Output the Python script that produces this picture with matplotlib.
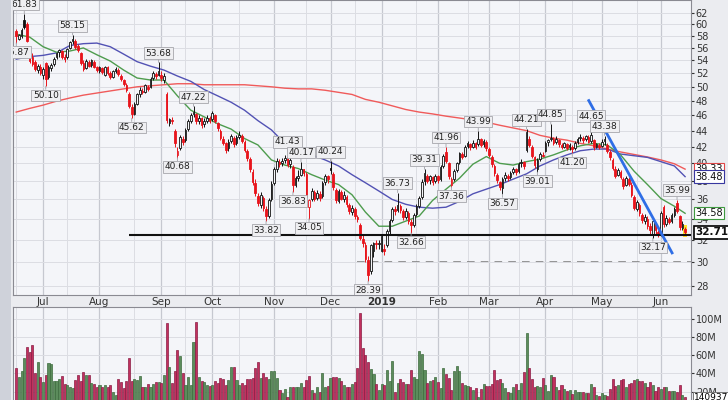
import numpy as np
import pandas as pd
import matplotlib
matplotlib.use("Agg")
import matplotlib.pyplot as plt
from matplotlib.ticker import FixedLocator, FixedFormatter, NullLocator


W, H = 728, 400

holidays = ["2018-07-04", "2018-09-03", "2018-11-22", "2018-12-05", "2018-12-25",
            "2019-01-01", "2019-01-21", "2019-02-18", "2019-04-19", "2019-05-27"]
first_day, last_day = "2018-06-18", "2019-06-14"

# daily candles
opens = [
    58.8, 57.5, 58.0, 60.8, 60.0, 55.5, 54.6, 53.8, 52.5, 53.0,
    51.8, 53.6, 51.4, 52.8, 53.4, 54.5, 55.3, 55.5, 54.6, 54.5,
    56.0, 57.1, 57.2, 56.3, 55.2, 53.6, 52.8, 53.8, 53.3, 53.8,
    52.9, 52.4, 52.8, 51.8, 52.9, 52.1, 51.5, 52.3, 52.5, 51.6,
    51.0, 50.3, 49.0, 47.2, 46.2, 47.6, 48.9, 49.4, 49.3, 50.0,
    50.0, 51.3, 51.9, 51.8, 51.8, 51.0, 49.0, 45.0, 45.4, 44.0,
    41.0, 41.8, 43.0, 42.8, 44.2, 45.3, 46.2, 46.2, 45.3, 45.6,
    44.8, 45.3, 45.6, 45.5, 46.0, 45.0, 44.0, 43.0, 42.4, 41.8,
    42.7, 43.1, 42.4, 43.2, 43.3, 42.6, 41.5, 40.5, 39.0, 37.8,
    36.4, 35.4, 36.2, 35.0, 34.3, 36.0, 37.8, 39.4, 40.2, 40.0,
    40.4, 40.8, 39.9, 39.6, 37.6, 38.3, 38.7, 39.3, 38.8, 35.2,
    36.0, 36.8, 36.2, 36.6, 36.4, 37.9, 38.5, 39.5, 38.8, 37.0,
    35.8, 36.8, 36.0, 36.3, 35.4, 34.7, 35.0, 34.2, 33.4, 32.1,
    31.5, 30.2, 29.2, 31.0, 31.7, 31.6, 31.0, 31.2, 31.5, 32.8,
    33.9, 35.0, 34.9, 35.3, 34.8, 34.2, 34.6, 33.7, 33.4, 34.5,
    35.3, 36.3, 38.0, 38.6, 38.1, 38.4, 38.0, 38.5, 38.2, 39.7,
    41.3, 40.0, 37.6, 38.2, 39.2, 40.1, 41.1, 40.9, 42.1, 42.3,
    42.0, 42.4, 42.3, 42.9, 42.3, 42.6, 41.7, 40.8, 39.7, 38.7,
    37.9, 37.2, 38.3, 38.6, 38.4, 39.0, 39.3, 39.1, 40.0, 40.1,
    41.6, 43.0, 42.0, 40.7, 39.4, 40.5, 41.0, 41.5, 42.6, 43.0,
    43.0, 42.6, 42.8, 42.2, 42.0, 42.3, 41.9, 42.0, 41.8, 42.6,
    43.1, 43.1, 42.9, 43.2, 42.7, 42.8, 42.0, 42.2, 42.1, 42.7,
    42.2, 41.4, 40.4, 39.4, 38.7, 39.0, 38.2, 37.6, 38.2, 37.6,
    36.3, 35.0, 35.4, 34.4, 33.8, 34.0, 33.3, 32.6, 33.5, 32.7,
    32.6, 35.2, 33.5, 34.0, 33.8, 34.4, 35.6, 34.3, 33.1, 33.0,
]
highs = [
    59.2, 58.4, 59.3, 61.83, 60.4, 55.8, 55.2, 54.0, 53.4, 53.4,
    52.9, 53.8, 53.3, 53.6, 54.5, 55.4, 55.9, 55.7, 55.0, 56.0,
    57.2, 58.15, 57.4, 56.6, 55.3, 54.0, 54.2, 54.1, 54.3, 54.0,
    53.2, 53.2, 53.0, 53.2, 53.1, 52.4, 52.5, 53.0, 52.8, 51.9,
    51.2, 50.5, 49.2, 47.6, 47.8, 49.1, 49.9, 49.8, 50.4, 50.3,
    51.4, 52.3, 52.2, 53.68, 52.4, 52.0, 49.2, 45.6, 45.8, 44.2,
    42.0, 43.5, 43.3, 44.3, 45.5, 46.3, 47.22, 46.3, 46.0, 45.8,
    45.6, 46.0, 45.9, 46.6, 46.2, 45.1, 44.2, 43.3, 42.6, 42.9,
    43.6, 43.3, 43.5, 44.0, 43.6, 42.8, 41.7, 40.7, 39.3, 38.2,
    36.7, 36.8, 36.4, 35.3, 36.2, 38.0, 39.6, 40.6, 40.5, 40.6,
    41.0, 41.43, 40.8, 39.8, 38.6, 39.2, 40.17, 39.4, 39.0, 36.1,
    37.2, 37.0, 37.0, 36.9, 38.0, 38.8, 38.7, 40.24, 39.0, 37.2,
    37.1, 37.0, 36.9, 36.5, 35.6, 35.4, 35.2, 34.4, 33.6, 32.5,
    31.8, 30.5, 31.6, 31.8, 32.0, 32.0, 32.6, 31.6, 33.0, 34.0,
    35.2, 35.3, 36.73, 35.5, 35.0, 35.1, 34.8, 34.0, 34.6, 35.5,
    36.4, 38.2, 39.31, 38.8, 38.7, 38.6, 38.8, 38.7, 39.8, 41.1,
    41.96, 40.2, 38.4, 39.3, 40.2, 41.4, 41.3, 42.2, 42.7, 42.5,
    42.8, 42.6, 43.99, 43.1, 42.9, 42.8, 41.9, 41.0, 39.9, 38.9,
    38.0, 38.4, 39.0, 38.8, 39.1, 39.6, 39.5, 40.1, 40.5, 40.3,
    44.21, 43.3, 42.2, 40.9, 40.6, 41.3, 41.3, 42.7, 43.0, 44.85,
    43.2, 43.3, 43.0, 42.4, 42.6, 42.5, 42.4, 42.2, 42.7, 43.2,
    43.6, 43.3, 43.5, 43.4, 44.65, 43.0, 42.5, 42.4, 42.9, 43.38,
    42.4, 41.6, 40.6, 39.7, 39.5, 39.2, 38.4, 38.6, 38.4, 37.9,
    36.5, 35.9, 35.6, 34.6, 34.5, 34.3, 33.6, 34.0, 33.7, 32.9,
    34.8, 35.4, 34.4, 34.2, 34.6, 35.2, 35.99, 34.4, 33.8, 33.2,
]
lows = [
    56.87, 57.3, 57.6, 59.2, 57.0, 53.6, 53.2, 52.4, 52.0, 51.8,
    51.2, 50.10, 51.2, 52.4, 53.1, 54.2, 54.6, 54.2, 53.8, 54.3,
    55.8, 56.6, 55.9, 55.4, 53.3, 52.4, 52.6, 52.9, 53.0, 52.8,
    52.2, 52.1, 51.9, 51.6, 51.8, 51.1, 51.3, 52.0, 51.6, 50.8,
    50.1, 49.2, 47.0, 45.62, 46.0, 47.4, 48.6, 48.9, 49.1, 49.4,
    49.8, 51.0, 51.2, 51.6, 50.9, 50.6, 45.0, 44.6, 44.8, 42.0,
    40.68, 41.6, 42.2, 42.6, 44.0, 45.0, 45.8, 44.9, 44.8, 44.4,
    44.5, 45.0, 45.0, 45.3, 45.0, 44.0, 42.8, 42.2, 41.2, 41.5,
    42.4, 42.0, 42.2, 42.9, 42.4, 41.3, 40.3, 39.0, 37.6, 36.4,
    35.3, 35.1, 34.8, 33.82, 34.1, 35.8, 37.6, 39.0, 39.6, 39.7,
    40.0, 39.6, 39.5, 36.83, 37.3, 38.0, 38.5, 38.6, 36.0, 34.05,
    35.8, 35.8, 35.9, 35.8, 36.2, 37.6, 37.8, 38.8, 37.0, 35.6,
    35.6, 35.9, 35.7, 35.2, 34.5, 34.4, 34.0, 33.7, 32.0, 31.3,
    30.0, 28.39, 29.0, 30.4, 31.2, 31.2, 30.9, 30.6, 31.3, 32.5,
    33.7, 34.4, 34.7, 34.6, 33.9, 34.0, 33.5, 32.66, 33.2, 34.3,
    35.1, 36.1, 37.6, 37.8, 37.7, 37.6, 37.8, 37.8, 38.0, 39.5,
    40.0, 38.2, 37.36, 38.0, 39.0, 39.9, 40.5, 40.7, 41.8, 41.6,
    41.8, 41.7, 42.1, 41.9, 42.0, 41.5, 40.8, 39.6, 38.6, 37.8,
    37.0, 36.57, 38.0, 38.0, 38.2, 38.8, 38.7, 38.9, 39.6, 39.4,
    41.4, 41.9, 40.6, 39.5, 39.01, 40.3, 40.7, 41.4, 42.1, 42.7,
    42.2, 42.3, 42.0, 41.7, 41.8, 41.6, 41.6, 41.20, 41.6, 42.3,
    42.7, 42.5, 42.7, 42.4, 42.5, 41.6, 41.8, 41.7, 41.9, 42.2,
    41.2, 40.4, 39.2, 38.3, 38.5, 38.2, 37.1, 37.4, 37.4, 36.3,
    34.9, 34.8, 34.3, 33.6, 33.5, 33.0, 32.6, 32.17, 32.6, 32.3,
    32.4, 33.2, 33.3, 33.5, 33.6, 34.2, 34.6, 32.9, 32.9, 32.5,
]
closes = [
    57.9, 58.1, 59.0, 59.6, 57.2, 53.9, 53.5, 52.6, 53.1, 52.1,
    52.6, 51.2, 53.0, 53.3, 54.3, 55.2, 55.6, 54.5, 54.2, 55.8,
    56.9, 57.4, 56.2, 55.6, 53.6, 52.7, 53.9, 53.2, 54.0, 53.0,
    52.5, 52.9, 52.2, 52.9, 52.0, 51.4, 52.3, 52.6, 51.9, 51.1,
    50.4, 49.5, 47.3, 46.2, 47.5, 48.9, 49.6, 49.2, 50.2, 49.7,
    51.2, 52.0, 51.6, 52.4, 51.3, 51.6, 45.4, 45.5, 45.2, 42.4,
    41.5, 43.2, 42.6, 44.1, 45.3, 46.0, 46.4, 45.2, 45.7, 44.7,
    45.3, 45.7, 45.2, 46.3, 45.2, 44.3, 43.1, 42.5, 41.6, 42.6,
    43.3, 42.3, 43.2, 43.5, 42.7, 41.6, 40.6, 39.3, 37.9, 36.7,
    35.6, 36.5, 35.1, 34.3, 35.9, 37.7, 39.3, 40.3, 39.9, 40.3,
    40.6, 39.8, 40.4, 37.5, 38.3, 38.6, 39.4, 38.9, 36.3, 35.9,
    36.9, 36.1, 36.7, 36.2, 37.8, 38.5, 38.2, 39.2, 37.3, 35.9,
    36.9, 36.1, 36.5, 35.5, 34.8, 35.1, 34.3, 34.0, 32.2, 31.7,
    30.3, 28.9, 31.5, 31.7, 31.6, 31.7, 32.4, 31.0, 32.8, 33.8,
    35.0, 34.8, 35.4, 34.9, 34.2, 34.8, 33.8, 33.4, 34.4, 35.3,
    36.2, 37.9, 38.9, 38.0, 38.5, 37.9, 38.6, 38.1, 39.6, 40.9,
    40.3, 38.5, 38.2, 39.1, 40.0, 41.2, 40.8, 42.0, 42.4, 41.9,
    42.5, 42.0, 43.0, 42.2, 42.7, 41.8, 41.0, 39.9, 38.9, 38.1,
    37.3, 38.2, 38.7, 38.3, 38.9, 39.4, 39.0, 39.9, 40.2, 39.7,
    43.8, 42.2, 40.9, 39.8, 40.4, 41.1, 40.9, 42.5, 42.8, 43.1,
    42.5, 43.0, 42.3, 41.9, 42.4, 41.8, 42.2, 41.7, 42.5, 43.0,
    43.2, 42.8, 43.3, 42.6, 43.4, 41.9, 42.3, 42.0, 42.6, 43.0,
    41.5, 40.7, 39.5, 38.6, 39.2, 38.4, 37.4, 38.3, 37.7, 36.5,
    35.1, 35.7, 34.6, 33.9, 34.2, 33.3, 32.9, 33.8, 32.9, 32.5,
    34.6, 33.5, 34.1, 33.7, 34.4, 35.0, 34.8, 33.2, 33.5, 32.71,
]
# daily volume, millions of shares
volumes = [
    45.6, 35.8, 42.7, 56.5, 69.3, 63.8, 71.1, 40.9, 52.9, 35.8,
    31.0, 38.3, 51.8, 50.3, 31.7, 31.7, 33.6, 37.2, 28.1, 27.4,
    24.8, 23.7, 32.8, 38.3, 32.1, 42.0, 38.3, 38.3, 29.2, 28.5,
    24.8, 27.4, 25.6, 27.7, 25.6, 27.4, 20.1, 16.4, 33.6, 31.0,
    23.7, 31.7, 56.5, 32.1, 33.6, 32.8, 37.2, 25.6, 25.6, 28.1,
    24.8, 28.5, 30.6, 31.0, 29.2, 38.3, 94.8, 46.7, 29.2, 42.7,
    65.6, 59.0, 40.1, 27.4, 35.8, 27.4, 74.7, 96.6, 35.8, 32.1,
    31.0, 27.4, 26.7, 27.4, 31.7, 29.2, 34.7, 33.6, 27.4, 32.8,
    47.4, 46.7, 32.8, 27.4, 29.2, 27.4, 33.6, 33.6, 34.7, 45.6,
    52.9, 34.7, 40.1, 35.8, 33.6, 42.7, 42.7, 34.7, 21.9, 18.3,
    22.6, 14.6, 24.8, 24.8, 24.8, 25.6, 29.2, 24.8, 32.8, 37.2,
    21.9, 18.3, 25.6, 20.1, 40.9, 25.6, 26.3, 34.7, 35.8, 36.5,
    34.7, 31.7, 27.4, 24.8, 25.6, 28.1, 31.0, 45.6, 105.7, 67.4,
    60.2, 52.9, 44.5, 39.0, 28.1, 21.9, 28.1, 27.4, 43.8, 32.1,
    53.6, 20.1, 29.2, 33.6, 31.0, 28.5, 28.5, 43.8, 35.8, 33.6,
    64.5, 60.9, 43.8, 29.2, 32.1, 32.8, 35.8, 31.0, 23.7, 46.3,
    39.4, 34.7, 21.9, 42.7, 48.5, 42.7, 29.2, 27.4, 26.3, 25.6,
    21.9, 23.7, 14.6, 23.0, 28.1, 26.3, 26.3, 28.1, 43.8, 32.8,
    33.6, 29.9, 23.7, 19.4, 18.3, 24.8, 28.1, 21.9, 29.9, 42.0,
    84.6, 45.6, 33.6, 25.6, 26.3, 25.6, 34.7, 27.4, 21.2, 38.3,
    36.5, 24.8, 21.9, 27.4, 22.6, 21.2, 21.9, 17.5, 21.9, 20.1,
    19.4, 20.1, 18.3, 18.3, 28.1, 24.8, 16.4, 15.3, 18.3, 16.4,
    15.3, 22.6, 34.0, 26.3, 27.4, 32.8, 33.6, 24.8, 28.5, 29.2,
    32.8, 33.6, 32.1, 32.1, 29.2, 25.6, 31.0, 27.4, 20.8, 24.8,
    22.6, 25.6, 25.6, 20.8, 20.8, 20.8, 20.1, 27.4, 16.4, 13.9,
]
last_volume = "14093737"

# moving averages, read every 5 sessions
ma_idx = list(range(0, 250, 5)) + [249]
sma20 = [
    58.3, 57.8, 56.2, 55.3, 55.5, 56.0, 54.9, 53.9, 52.5, 51.3,
    51.0, 51.0, 48.7, 46.7, 45.8, 44.9, 44.2, 43.0, 42.2, 40.4,
    39.8, 39.4, 38.7, 38.1, 37.6, 36.5, 34.7, 33.3, 33.3, 33.8,
    34.3, 35.9, 37.1, 38.3, 39.9, 40.8, 40.0, 39.8, 40.2, 40.5,
    41.0, 41.6, 42.1, 42.4, 42.2, 41.0, 39.1, 37.6, 36.1, 35.3, 34.58,
]
sma50 = [
    54.2, 54.6, 54.8, 55.2, 56.4, 56.7, 56.8, 56.2, 55.0, 53.8,
    53.1, 52.5, 51.6, 50.8, 49.6, 48.7, 47.8, 46.7, 45.3, 44.1,
    42.4, 41.7, 41.0, 40.4, 39.7, 38.7, 37.8, 36.9, 36.0, 35.5,
    35.2, 35.1, 35.2, 35.8, 36.6, 37.1, 37.6, 38.2, 38.8, 39.7,
    40.4, 41.0, 41.5, 41.7, 41.7, 41.1, 40.9, 40.7, 40.2, 39.7, 38.48,
]
sma200 = [
    46.45, 46.95, 47.4, 47.95, 48.4, 48.8, 49.1, 49.4, 49.7, 50.0,
    50.15, 50.3, 50.45, 50.45, 50.3, 50.3, 50.3, 50.3, 50.15, 50.0,
    49.8, 49.7, 49.7, 49.5, 49.2, 48.9, 48.2, 47.8, 47.3, 46.8,
    46.45, 46.2, 45.9, 45.65, 45.4, 45.1, 44.7, 44.35, 44.0, 43.4,
    43.05, 42.8, 42.4, 42.1, 41.7, 41.35, 41.05, 40.75, 40.4, 39.95, 39.33,
]

# annotated swing highs / lows
label_idx = [3, 0, 21, 11, 53, 43, 66, 60, 101, 93, 106, 103, 117, 109, 131,
             142, 147, 152, 160, 162, 172, 181, 190, 194, 199, 207, 214, 219, 237, 246]
label_kind = ["h", "l", "h", "l", "h", "l", "h", "l", "h", "l", "h", "l", "h", "l", "l",
              "h", "l", "h", "h", "l", "h", "l", "h", "l", "h", "l", "h", "h", "l", "h"]

# drawn lines
support_level, support_start = 32.46, 42
dashed_level, dashed_start = 30.0, 127
trend_x = [212.9, 244.4]
trend_y = [48.2, 30.7]

price_ticks = list(range(28, 64, 2))
vol_ticks = [20, 40, 60, 80, 100]

end_vals = [39.33, 38.48, 34.58, 32.71]
end_colors = ["#e04848", "#3838a0", "#3f9a3f", "#000000"]


dates = pd.bdate_range(first_day, last_day)
dates = dates[~dates.isin(pd.to_datetime(holidays))]
n = len(dates)
x = np.arange(n)

o = np.array(opens)
h = np.array(highs)
l = np.array(lows)
c = np.array(closes)
prev = np.r_[o[0], c[:-1]]
up = c >= prev

bg = "#f4f5f9"
fig = plt.figure(figsize=(W / 100, H / 100), dpi=100, facecolor="#ebecf0")
fig.patches.append(plt.Rectangle((0, 0), 11 / W, 1, transform=fig.transFigure,
                                 fc="#cfd2da", ec="none"))

ax = fig.add_axes([13 / W, 105 / H, 678 / W, 295 / H], facecolor=bg)
axv = fig.add_axes([13 / W, -10 / H, 678 / W, 103 / H], facecolor=bg, sharex=ax)

xlim = (-1.2, 251.2)
ax.set_xlim(*xlim)

# vertical grid: month starts and third mondays
month_start = [i for i in range(1, n) if dates[i].month != dates[i - 1].month]
mid_lines = []
for ms in [0] + month_start:
    d = pd.Timestamp(dates[ms].year, dates[ms].month, 1)
    third_mon = d + pd.Timedelta(days=(7 - d.weekday()) % 7 + 14)
    k = int(np.searchsorted(dates, third_mon))
    if k < n:
        mid_lines.append(k)

for a in (ax, axv):
    for ms in month_start:
        a.axvline(ms, color="#c6c8d0", lw=0.9, zorder=0)
    for k in mid_lines:
        a.axvline(k, color="#dcdde3", lw=0.7, zorder=0)
    for sp in a.spines.values():
        sp.set_color("#8a8a92")
        sp.set_linewidth(0.8)

# price panel
ax.set_yscale("log")
ax.set_ylim(27.25, 64.4)
ax.yaxis.set_major_locator(FixedLocator(price_ticks))
ax.yaxis.set_major_formatter(FixedFormatter([str(t) for t in price_ticks]))
ax.yaxis.set_minor_locator(NullLocator())
ax.yaxis.tick_right()
ax.tick_params(axis="y", labelsize=7, length=2, pad=1.5, colors="#333333")
ax.tick_params(axis="x", bottom=False, labelbottom=False)
ax.grid(axis="y", color="#dcdde3", lw=0.7, zorder=0)

ax.plot(ma_idx, sma200, color="#f05a5a", lw=1.0, zorder=2)
ax.plot(ma_idx, sma50, color="#5252b4", lw=1.0, zorder=2)
ax.plot(ma_idx, sma20, color="#4e9c4e", lw=1.0, zorder=2)

ax.hlines(support_level, support_start, xlim[1], color="#111111", lw=1.5, zorder=5)
ax.hlines(dashed_level, dashed_start, xlim[1], color="#7a7a7a", lw=1.1,
          linestyles=(0, (5, 4)), zorder=1)

# highlight the last session
ax.bar(x[-1], h[-1] - l[-1] + 0.5, bottom=l[-1] - 0.25, width=1.6,
       color="#ffe22e", zorder=2)

col = np.where(up, "#111111", "#e8141c")
face = np.where(c > o, bg, col)
ax.vlines(x, l, h, colors=col, lw=0.7, zorder=3)
ax.bar(x, np.maximum(np.abs(c - o), 0.08), bottom=np.minimum(o, c), width=0.62,
       color=face, edgecolor=col, linewidth=0.6, zorder=4)

ax.plot(trend_x, trend_y, color="#2f6ee6", lw=2.0, zorder=6, solid_capstyle="butt")

for i, kind in zip(label_idx, label_kind):
    v = h[i] if kind == "h" else l[i]
    ann = ax.annotate(f"{v:.2f}", xy=(i, v), xytext=(0, 3.5 if kind == "h" else -3.5),
                      textcoords="offset points", ha="center",
                      va="bottom" if kind == "h" else "top",
                      fontsize=6.5, color="#222222", zorder=8,
                      bbox=dict(boxstyle="square,pad=0.15", fc="#efeff2",
                                ec="#a6a6ac", lw=0.6),
                      arrowprops=dict(arrowstyle="-", color="#a0a0a6", lw=0.6,
                                      shrinkA=0, shrinkB=0),
                      annotation_clip=False)
    ann.set_clip_on(True)
    ann.set_clip_box(ax.bbox)

for v, ec in zip(end_vals, end_colors):
    last = v == end_vals[-1]
    ax.text(1.006, v, f"{v:.2f}", transform=ax.get_yaxis_transform(),
            fontsize=7.5 if last else 7, fontweight="bold" if last else "normal",
            color="#111111", ha="left", va="center", zorder=10, clip_on=False,
            bbox=dict(boxstyle="square,pad=0.12", fc="white", ec=ec,
                      lw=1.2 if last else 0.8))

# month labels between panels
for ms in month_start:
    d = dates[ms]
    is_year = d.month == 1
    ax.text(ms, -0.024, str(d.year) if is_year else d.strftime("%b"),
            transform=ax.get_xaxis_transform(), ha="center", va="center",
            fontsize=7.5, color="#333333", fontweight="bold" if is_year else "normal",
            clip_on=False)

# volume panel
vcol = np.where(up, "#5c8c5c", "#c2305e")
vedge = np.where(up, "#3d6b3d", "#8a1c44")
axv.bar(x, volumes, width=0.78, color=vcol, edgecolor=vedge, linewidth=0.5, zorder=3)
axv.set_ylim(0, 112.6)
axv.yaxis.set_major_locator(FixedLocator(vol_ticks))
axv.yaxis.set_major_formatter(FixedFormatter([f"{t}M" for t in vol_ticks]))
axv.yaxis.tick_right()
axv.tick_params(axis="y", labelsize=7, length=2, pad=1.5, colors="#333333")
axv.tick_params(axis="x", bottom=False, labelbottom=False)
axv.grid(axis="y", color="#dcdde3", lw=0.7, zorder=0)
axv.text(1.004, volumes[-1], last_volume, transform=axv.get_yaxis_transform(),
         fontsize=6.5, ha="left", va="center", clip_on=False, zorder=10,
         bbox=dict(boxstyle="square,pad=0.12", fc="white", ec="#777777", lw=0.7))

fig.savefig("out.png", dpi=100, facecolor=fig.get_facecolor())
